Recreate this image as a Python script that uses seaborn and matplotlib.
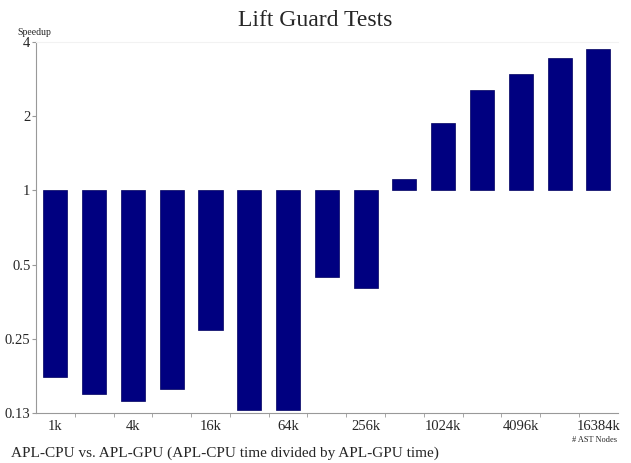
import numpy as np
import pandas as pd
import seaborn as sns
import matplotlib.pyplot as plt
from matplotlib.ticker import FixedLocator, FixedFormatter

# values (speedup, log2 axis)
sizes = ['1k', '2k', '4k', '8k', '16k', '32k', '64k', '128k', '256k',
         '512k', '1024k', '2048k', '4096k', '8192k', '16384k']
speedup = [0.175, 0.149, 0.14, 0.156, 0.272, 0.128, 0.128, 0.447, 0.403,
           1.11, 1.87, 2.55, 2.96, 3.44, 3.75]
ytick_vals = [0.125, 0.25, 0.5, 1, 2, 4]
ytick_labels = ['0.13', '0.25', '0.5', '1', '2', '4']

df = pd.DataFrame({'size': sizes, 'speedup': speedup})

sns.set_style('ticks')
plt.rcParams['font.family'] = ['Liberation Serif', 'DejaVu Serif']

fig = plt.figure(figsize=(6.31, 4.63), dpi=100)
ax = fig.add_axes([0.057, 0.108, 0.922, 0.801])

pos = np.arange(len(df))
# bars grow from 1 up or down, like the original
ax.bar(pos, df['speedup'] - 1, bottom=1, width=0.62, color='#000080',
       edgecolor='#000060', linewidth=0.5)

ax.set_yscale('log', base=2)
ax.set_ylim(0.125, 4)
ax.set_xlim(-0.5, len(df) - 0.5)
ax.yaxis.set_major_locator(FixedLocator(ytick_vals))
ax.yaxis.set_major_formatter(FixedFormatter(ytick_labels))
ax.yaxis.set_minor_locator(FixedLocator([]))

ax.set_xticks(pos[::2])
ax.set_xticklabels(df['size'][::2])
ax.set_xticks(pos[:-1] + 0.5, minor=True)
ax.tick_params(axis='x', which='major', length=0, labelsize=10.5, pad=5)
ax.tick_params(axis='x', which='minor', length=3, color='#999999')
ax.tick_params(axis='y', which='major', length=3, color='#999999',
               labelsize=10.5, pad=1)

for side in ['left', 'bottom']:
    ax.spines[side].set_color('#999999')
ax.spines['top'].set_color('#f2f2f2')
ax.spines['right'].set_visible(False)

fig.text(0.5, 0.956, 'Lift Guard Tests', ha='center', va='center', fontsize=17)
fig.text(0.055, 0.93, 'Speedup', ha='center', va='center', fontsize=7)
fig.text(0.978, 0.049, '# AST Nodes', ha='right', va='center', fontsize=6)
fig.text(0.018, 0.022, 'APL-CPU vs. APL-GPU (APL-CPU time divided by APL-GPU time)',
         ha='left', va='center', fontsize=11)

fig.savefig('out.png', dpi=100)
